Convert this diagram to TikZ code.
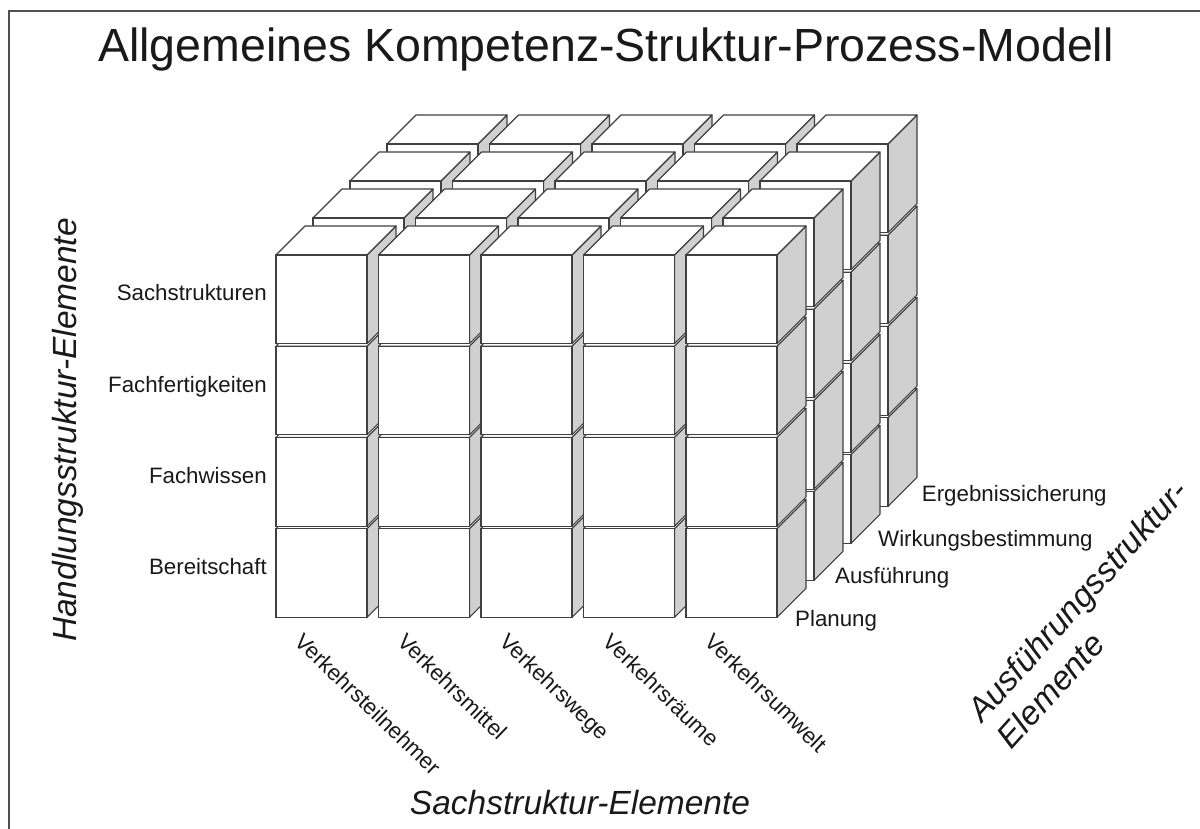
\documentclass[tikz,border=0pt]{standalone}
\usepackage{fontspec}
\setmainfont{Liberation Sans}
\usepackage{tikz}
\usetikzlibrary{positioning}
\definecolor{cubeline}{RGB}{64,64,64}
\definecolor{cubeshade}{RGB}{208,208,208}
\definecolor{framegray}{RGB}{80,80,80}
\definecolor{labeltext}{RGB}{25,25,25}
\tikzstyle{cubefront} = [draw=cubeline, fill=white, line width=1.1pt]
\tikzstyle{cubetop} = [draw=cubeline, fill=white, line width=1.1pt, line join=round]
\tikzstyle{cubeside} = [draw=cubeline, fill=cubeshade, line width=1.1pt, line join=round]
\tikzstyle{itemlabel} = [text=labeltext, inner sep=0pt, font=\fontsize{22.3}{26}\selectfont]
\tikzstyle{axislabel} = [text=labeltext, inner sep=0pt, font=\fontsize{33.5}{40}\selectfont\itshape]

\begin{document}
\begin{tikzpicture}[x=1pt, y=1pt]
\useasboundingbox (0,0) rectangle (1200,829);
% Frame
\draw[framegray, line width=2pt] (9,0) -- (9,818) -- (1200,818);

% Title
\node[anchor=base, text=labeltext, font=\fontsize{46.5}{56}\selectfont] (title) at (606,767) {Allgemeines Kompetenz-Struktur-Prozess-Modell};

% Cubes: layers back to front, rows bottom to top, columns left to right
\foreach \k in {3,2,1,0}
  \foreach \r in {3,2,1,0}
    \foreach \c in {0,...,4} {
      \pgfmathsetmacro{\cx}{276+102.5*\c+37*\k}
      \pgfmathsetmacro{\cy}{574-91.2*\r+37*\k}
      \draw[cubeside] (\cx+91,\cy) -- ++(29,29) -- ++(0,-88.7) -- ++(-29,-29) -- cycle;
      \draw[cubetop] (\cx,\cy) -- ++(29,29) -- ++(91,0) -- ++(-29,-29) -- cycle;
      \draw[cubefront] (\cx,\cy) rectangle ++(91,-88.7);
    }

% Anchor points on the front layer
\foreach \r in {0,...,3}
  \coordinate (row\r) at (276,574-91.2*\r-46);
\foreach \c in {0,...,4}
  \coordinate (col\c) at (276+102.5*\c,211.7);

% Rows
\node[itemlabel, left=9pt of row0, anchor=base east] (sachstr) {Sachstrukturen};
\node[itemlabel, left=9pt of row1, anchor=base east] (fertig) {Fachfertigkeiten};
\node[itemlabel, left=9pt of row2, anchor=base east] (wissen) {Fachwissen};
\node[itemlabel, left=9pt of row3, anchor=base east] (bereit) {Bereitschaft};

% Columns
\node[itemlabel, below right=14pt and 29pt of col0, rotate=-44] (teiln) {Verkehrsteilnehmer};
\node[itemlabel, below right=14pt and 29pt of col1, rotate=-44] (mittel) {Verkehrsmittel};
\node[itemlabel, below right=14pt and 29pt of col2, rotate=-44] (wege) {Verkehrswege};
\node[itemlabel, below right=14pt and 29pt of col3, rotate=-44] (raeume) {Verkehrsräume};
\node[itemlabel, below right=14pt and 29pt of col4, rotate=-44] (umwelt) {Verkehrsumwelt};

% Layers
\node[itemlabel, anchor=base west] (planung) at (795,202) {Planung};
\node[itemlabel, anchor=base west] (ausfuehr) at (835,245) {Ausführung};
\node[itemlabel, anchor=base west] (wirkung) at (878,282) {Wirkungsbestimmung};
\node[itemlabel, anchor=base west] (ergebnis) at (921.7,327.3) {Ergebnissicherung};

% Axes
\node[axislabel, rotate=90] (handlung) at (68,399) {Handlungsstruktur-Elemente};
\node[axislabel, anchor=base] (sachachse) at (580,14) {Sachstruktur-Elemente};
\node[axislabel, rotate=48, align=left] (ausfachse) at (1092,215) {Ausführungsstruktur-\\Elemente};
\end{tikzpicture}
\end{document}
